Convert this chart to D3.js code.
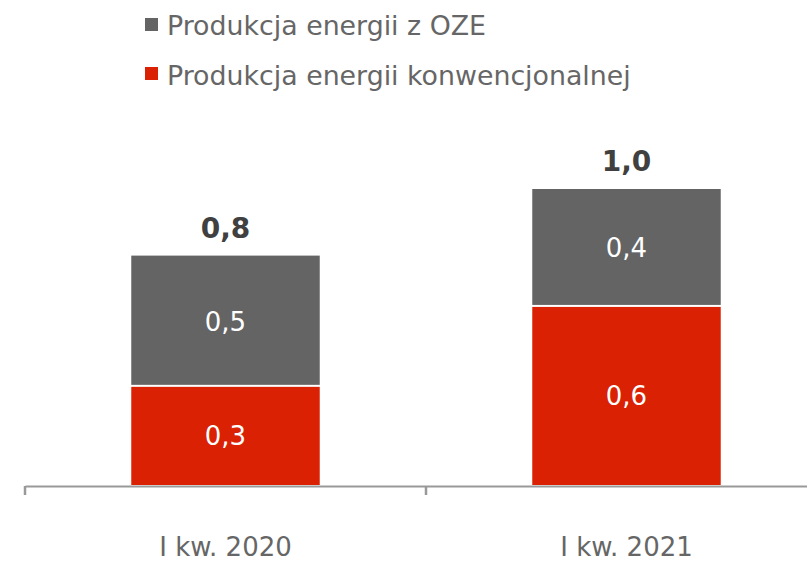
<!DOCTYPE html>
<html lang="pl">
<head>
  <meta charset="UTF-8">
  <title>Produkcja energii</title>
  <style>
    body { margin: 0; background: #fff; }
    svg { display: block; font-family: 'DejaVu Sans', Verdana, sans-serif; }
  </style>
</head>
<body>
  <svg width="807" height="561"></svg>
  <script src="https://cdn.jsdelivr.net/npm/d3@7"></script>
  <script>
    // dane
    var categories = ['I kw. 2020', 'I kw. 2021']
    var convValues = [0.335, 0.605]
    var ozeValues = [0.44, 0.395]
    var convLabels = ['0,3', '0,6']
    var ozeLabels = ['0,5', '0,4']
    var totalLabels = ['0,8', '1,0']
    var seriesNames = ['Produkcja energii z OZE', 'Produkcja energii konwencjonalnej']

    var grey = '#646464'
    var red = '#da2104'

    var svg = d3.select('svg')
    var baseY = 486

    var x = d3.scaleBand()
      .domain(categories)
      .range([25, 827])
      .paddingInner(0.53)
      .paddingOuter(0.265)

    var xOuter = d3.scaleBand()
      .domain(categories)
      .range([25, 827])

    var y = d3.scaleLinear()
      .domain([0, 1.0])
      .range([485, 189])

    var rows = categories.map(function(c, i) {
      return { cat: c, conv: convValues[i], oze: ozeValues[i], i: i }
    })

    // legenda
    var legend = svg.append('g')
    ;[grey, red].forEach(function(col, i) {
      legend.append('rect')
        .attr('x', 145).attr('y', 18 + i * 49)
        .attr('width', 13).attr('height', 13)
        .attr('fill', col)
      legend.append('text')
        .attr('x', 167).attr('y', 35 + i * 50)
        .attr('font-size', '26.8px')
        .attr('fill', '#666')
        .text(seriesNames[i])
    })

    // słupki
    var g = svg.append('g')

    g.selectAll('.conv')
      .data(rows)
      .enter()
      .append('rect')
      .attr('class', 'conv')
      .attr('x', function(d) { return x(d.cat) })
      .attr('width', x.bandwidth())
      .attr('y', function(d) { return y(d.conv) + 1 })
      .attr('height', function(d) { return y(0) - y(d.conv) - 1 })
      .attr('fill', red)

    g.selectAll('.oze')
      .data(rows)
      .enter()
      .append('rect')
      .attr('class', 'oze')
      .attr('x', function(d) { return x(d.cat) })
      .attr('width', x.bandwidth())
      .attr('y', function(d) { return y(d.conv + d.oze) })
      .attr('height', function(d) { return y(d.conv) - y(d.conv + d.oze) - 1 })
      .attr('fill', grey)

    // etykiety w słupkach
    g.selectAll('.convLab')
      .data(rows)
      .enter()
      .append('text')
      .attr('x', function(d) { return x(d.cat) + x.bandwidth() / 2 })
      .attr('y', function(d) { return (y(0) + y(d.conv)) / 2 + 10 })
      .attr('text-anchor', 'middle')
      .attr('font-size', '26px')
      .attr('fill', '#fff')
      .text(function(d) { return convLabels[d.i] })

    g.selectAll('.ozeLab')
      .data(rows)
      .enter()
      .append('text')
      .attr('x', function(d) { return x(d.cat) + x.bandwidth() / 2 })
      .attr('y', function(d) { return (y(d.conv) + y(d.conv + d.oze)) / 2 + 10 })
      .attr('text-anchor', 'middle')
      .attr('font-size', '26px')
      .attr('fill', '#fff')
      .text(function(d) { return ozeLabels[d.i] })

    g.selectAll('.totLab')
      .data(rows)
      .enter()
      .append('text')
      .attr('x', function(d) { return x(d.cat) + x.bandwidth() / 2 })
      .attr('y', function(d) { return y(d.conv + d.oze) - 18 })
      .attr('text-anchor', 'middle')
      .attr('font-size', '28px')
      .attr('font-weight', 'bold')
      .attr('fill', '#404040')
      .text(function(d) { return totalLabels[d.i] })

    // oś X
    var axis = svg.append('g')
      .attr('transform', 'translate(0,' + baseY + ')')
      .call(d3.axisBottom(xOuter).tickSize(0).tickSizeOuter(0))

    axis.select('.domain')
      .attr('stroke', '#999')
      .attr('stroke-width', 2)

    axis.selectAll('text')
      .attr('y', 70)
      .attr('dy', 0)
      .attr('font-family', "'DejaVu Sans', Verdana, sans-serif")
      .attr('font-size', '26px')
      .attr('fill', '#666')

    axis.selectAll('.sep')
      .data(categories)
      .enter()
      .append('line')
      .attr('class', 'sep')
      .attr('x1', function(d) { return xOuter(d) })
      .attr('x2', function(d) { return xOuter(d) })
      .attr('y1', 0)
      .attr('y2', 9)
      .attr('stroke', '#999')
      .attr('stroke-width', 2.5)
  </script>
</body>
</html>
